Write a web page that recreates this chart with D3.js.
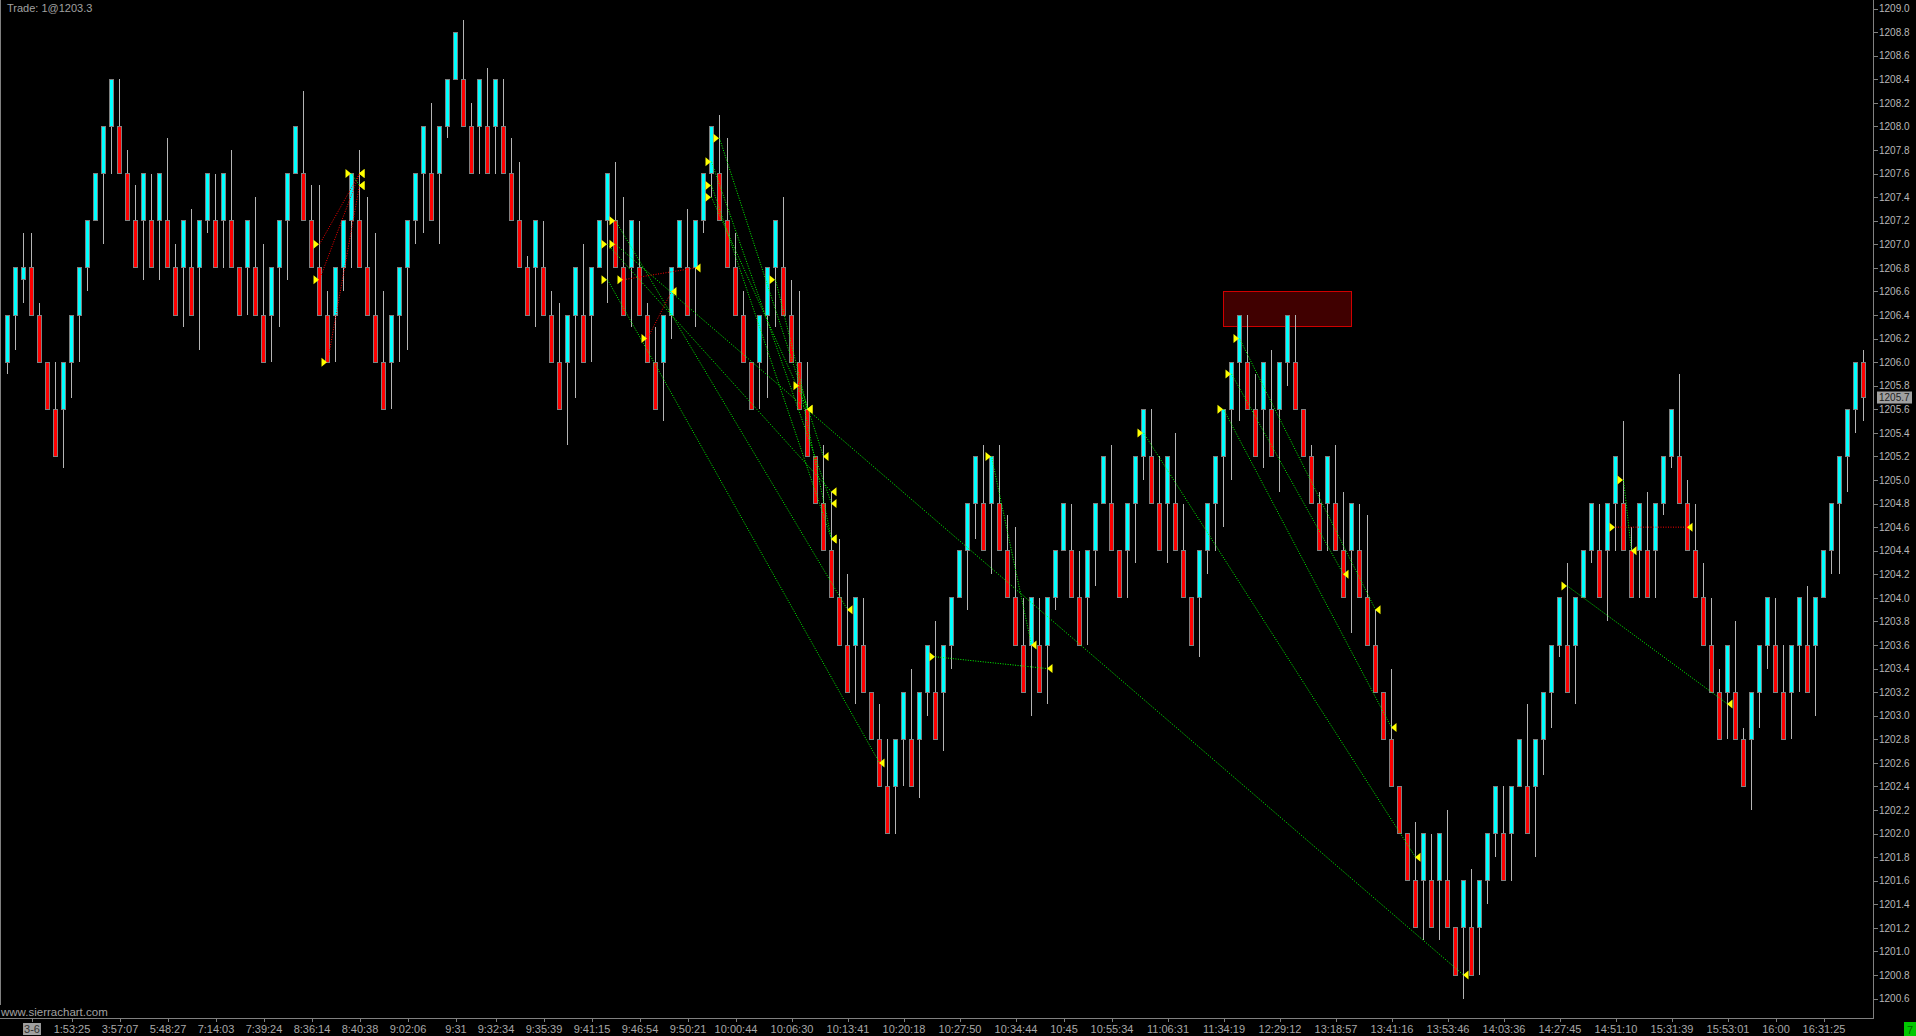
<!DOCTYPE html>
<html><head><meta charset="utf-8">
<script src="https://cdn.jsdelivr.net/npm/d3@7"></script>
<style>
html,body{margin:0;padding:0;background:#000;overflow:hidden;}
svg{display:block;font-family:"Liberation Sans",Arial,sans-serif;}
</style></head><body>
<svg id="chart" width="1916" height="1036"></svg>
<script>
// ---------- DATA ----------
const opens = [
1206.0,1206.4,1206.7,1206.8,1206.4,1206.0,1205.6,1205.6,1206.0,1206.4,
1206.8,1207.2,1207.6,1208.0,1208.0,1207.6,1207.2,1207.2,1207.2,1207.2,
1207.2,1206.8,1206.8,1206.8,1206.8,1207.2,1207.2,1207.2,1207.2,1206.8,
1206.8,1206.8,1206.4,1206.4,1206.8,1207.2,1207.6,1207.6,1207.2,1206.8,
1206.4,1206.4,1206.8,1207.2,1207.2,1206.8,1206.4,1206.0,1206.0,1206.4,
1206.8,1207.2,1207.6,1207.6,1207.6,1208.0,1208.4,1208.4,1208.0,1208.0,
1208.0,1208.0,1208.0,1207.6,1207.2,1206.8,1206.8,1206.8,1206.4,1206.0,
1206.0,1206.4,1206.4,1206.4,1206.8,1207.2,1207.2,1206.8,1206.8,1206.8,
1206.4,1206.0,1206.0,1206.4,1206.8,1206.8,1206.8,1207.2,1207.6,1207.6,
1207.2,1206.8,1206.4,1206.0,1206.0,1206.4,1206.8,1206.8,1206.4,1206.0,
1205.6,1205.2,1204.8,1204.4,1204.0,1203.6,1203.6,1203.6,1203.2,1202.8,
1202.4,1202.4,1202.8,1202.8,1202.8,1203.2,1203.2,1203.2,1203.6,1204.0,
1204.4,1204.8,1204.8,1204.8,1204.8,1204.4,1204.0,1203.6,1203.6,1203.6,
1203.6,1204.0,1204.4,1204.4,1204.0,1204.0,1204.4,1204.8,1204.8,1204.4,
1204.4,1204.8,1205.2,1205.2,1204.8,1204.8,1204.8,1204.4,1204.0,1204.0,
1204.4,1204.8,1205.2,1205.6,1206.0,1206.0,1205.6,1205.6,1205.6,1205.6,
1206.0,1206.0,1205.6,1205.2,1204.8,1204.8,1204.8,1204.4,1204.4,1204.4,
1204.0,1203.6,1203.2,1202.8,1202.4,1202.0,1201.6,1201.6,1201.6,1201.6,
1201.6,1201.2,1201.2,1201.2,1201.2,1201.6,1202.0,1202.0,1202.0,1202.4,
1202.4,1202.4,1202.8,1203.2,1203.6,1203.6,1203.6,1204.0,1204.4,1204.4,
1204.4,1204.8,1204.8,1204.4,1204.4,1204.4,1204.4,1204.8,1205.2,1205.2,
1204.8,1204.4,1204.0,1203.6,1203.2,1203.2,1203.2,1202.8,1202.8,1203.2,
1203.6,1203.6,1203.2,1203.2,1203.6,1203.6,1203.6,1204.0,1204.4,1204.8,
1205.2,1205.6,1206.0];
const closes = [
1206.4,1206.8,1206.8,1206.4,1206.0,1205.6,1205.2,1206.0,1206.4,1206.8,
1207.2,1207.6,1208.0,1208.4,1207.6,1207.2,1206.8,1207.6,1206.8,1207.6,
1206.8,1206.4,1207.2,1206.4,1207.2,1207.6,1206.8,1207.6,1206.8,1206.4,
1207.2,1206.4,1206.0,1206.8,1207.2,1207.6,1208.0,1207.2,1206.8,1206.4,
1206.0,1206.8,1207.2,1207.6,1206.8,1206.4,1206.0,1205.6,1206.4,1206.8,
1207.2,1207.6,1208.0,1207.2,1208.0,1208.4,1208.8,1208.0,1207.6,1208.4,
1207.6,1208.4,1207.6,1207.2,1206.8,1206.4,1207.2,1206.4,1206.0,1205.6,
1206.4,1206.8,1206.0,1206.8,1207.2,1207.6,1206.8,1206.4,1207.2,1206.4,
1206.0,1205.6,1206.4,1206.8,1207.2,1206.4,1207.2,1207.6,1208.0,1207.2,
1206.8,1206.4,1206.0,1205.6,1206.4,1206.8,1207.2,1206.4,1206.0,1205.6,
1205.2,1204.8,1204.4,1204.0,1203.6,1203.2,1204.0,1203.2,1202.8,1202.4,
1202.0,1202.8,1203.2,1202.4,1203.2,1203.6,1202.8,1203.6,1204.0,1204.4,
1204.8,1205.2,1204.4,1205.2,1204.4,1204.0,1203.6,1203.2,1204.0,1203.2,
1204.0,1204.4,1204.8,1204.0,1203.6,1204.4,1204.8,1205.2,1204.4,1204.0,
1204.8,1205.2,1205.6,1204.8,1204.4,1205.2,1204.4,1204.0,1203.6,1204.4,
1204.8,1205.2,1205.6,1206.0,1206.4,1205.6,1205.2,1206.0,1205.2,1206.0,
1206.4,1205.6,1205.2,1204.8,1204.4,1205.2,1204.4,1204.0,1204.8,1204.0,
1203.6,1203.2,1202.8,1202.4,1202.0,1201.6,1201.2,1202.0,1201.2,1202.0,
1201.2,1200.8,1201.6,1200.8,1201.6,1202.0,1202.4,1201.6,1202.4,1202.8,
1202.0,1202.8,1203.2,1203.6,1204.0,1203.2,1204.0,1204.4,1204.8,1204.0,
1204.8,1205.2,1204.4,1204.0,1204.8,1204.0,1204.8,1205.2,1205.6,1204.8,
1204.4,1204.0,1203.6,1203.2,1202.8,1203.6,1202.8,1202.4,1203.2,1203.6,
1204.0,1203.2,1202.8,1203.6,1204.0,1203.2,1204.0,1204.4,1204.8,1205.2,
1205.6,1206.0,1205.7];
const highs = [
1206.4,1206.8,1207.1,1207.1,1206.5,1206.0,1206.0,1206.0,1206.4,1206.8,
1207.2,1207.6,1208.0,1208.4,1208.4,1207.8,1207.5,1207.6,1207.6,1207.6,
1207.9,1207.0,1207.2,1207.3,1207.2,1207.6,1207.6,1207.6,1207.8,1206.8,
1207.2,1207.4,1207.0,1206.8,1207.2,1207.6,1208.0,1208.3,1207.5,1207.5,
1206.6,1206.8,1207.2,1207.6,1207.8,1207.4,1207.1,1206.6,1206.4,1206.8,
1207.2,1207.6,1208.0,1208.2,1208.0,1208.4,1208.8,1208.9,1208.2,1208.4,
1208.5,1208.4,1208.4,1207.9,1207.7,1206.9,1207.2,1207.2,1206.6,1206.5,
1206.4,1206.8,1207.0,1206.8,1207.2,1207.6,1207.7,1207.4,1207.2,1207.2,
1206.5,1206.3,1206.4,1206.8,1207.2,1207.3,1207.2,1207.6,1208.0,1208.1,
1207.9,1207.1,1206.6,1206.0,1206.4,1206.8,1207.2,1207.4,1206.7,1206.6,
1206.0,1205.2,1205.3,1204.9,1204.5,1204.2,1204.0,1204.0,1203.2,1203.1,
1202.8,1202.8,1203.2,1203.4,1203.2,1203.6,1203.8,1203.6,1204.0,1204.4,
1204.8,1205.2,1205.3,1205.2,1205.3,1204.7,1204.6,1204.0,1204.0,1204.0,
1204.0,1204.4,1204.8,1204.8,1204.4,1204.4,1204.8,1205.2,1205.3,1204.4,
1204.8,1205.2,1205.6,1205.6,1205.2,1205.2,1205.4,1204.8,1204.0,1204.4,
1204.8,1205.2,1205.6,1206.0,1206.4,1206.4,1205.9,1206.0,1206.1,1206.0,
1206.4,1206.4,1205.6,1205.3,1204.9,1205.2,1205.3,1204.9,1204.8,1204.8,
1204.7,1203.9,1203.2,1203.4,1202.4,1202.0,1202.1,1202.0,1202.0,1202.0,
1202.2,1201.2,1201.6,1201.7,1201.6,1202.0,1202.4,1202.4,1202.4,1202.8,
1203.1,1202.8,1203.2,1203.6,1204.0,1204.3,1204.0,1204.4,1204.8,1204.8,
1204.8,1205.2,1205.5,1204.6,1204.8,1204.9,1204.8,1205.2,1205.6,1205.9,
1205.0,1204.8,1204.3,1204.0,1203.4,1203.6,1203.8,1202.9,1203.2,1203.6,
1204.0,1204.0,1203.6,1203.6,1204.0,1204.1,1204.0,1204.4,1204.8,1205.2,
1205.6,1206.0,1206.1];
const lows = [
1205.9,1206.1,1206.5,1206.4,1206.0,1205.6,1205.2,1205.1,1205.7,1206.0,
1206.6,1207.2,1207.0,1207.6,1207.6,1207.2,1206.8,1206.7,1206.8,1206.7,
1206.8,1206.4,1206.3,1206.4,1206.1,1207.1,1206.8,1206.8,1206.8,1206.4,
1206.4,1206.4,1206.0,1206.0,1206.3,1206.7,1207.6,1207.2,1206.8,1206.4,
1206.0,1206.0,1206.6,1206.8,1206.8,1206.4,1206.0,1205.6,1205.6,1206.0,
1206.1,1207.0,1207.1,1207.2,1207.0,1207.9,1208.4,1208.0,1207.6,1207.6,
1207.6,1207.6,1207.6,1207.2,1206.8,1206.4,1206.3,1206.4,1206.0,1205.6,
1205.3,1205.7,1206.0,1206.0,1206.8,1206.5,1206.8,1206.4,1206.3,1206.4,
1206.0,1205.6,1205.5,1206.2,1206.8,1206.4,1206.3,1207.1,1207.4,1207.2,
1206.8,1206.4,1206.0,1205.6,1205.6,1205.7,1206.3,1206.4,1206.0,1205.6,
1205.2,1204.8,1204.4,1204.0,1203.6,1203.2,1203.1,1203.2,1202.8,1202.4,
1202.0,1202.0,1202.4,1202.4,1202.3,1203.0,1202.8,1202.7,1203.4,1204.0,
1203.9,1204.5,1204.4,1204.2,1204.4,1204.0,1203.6,1203.2,1203.0,1203.2,
1203.1,1203.9,1204.4,1204.0,1203.6,1203.6,1204.1,1204.8,1204.4,1204.0,
1204.0,1204.3,1205.0,1204.8,1204.4,1204.3,1204.4,1204.0,1203.6,1203.5,
1204.2,1204.4,1204.6,1205.0,1205.5,1205.6,1205.2,1205.1,1205.2,1204.9,
1205.8,1205.6,1205.2,1204.8,1204.4,1204.4,1204.4,1204.0,1203.7,1204.0,
1203.6,1203.2,1202.8,1202.4,1202.0,1201.6,1201.2,1201.1,1201.2,1201.1,
1201.2,1200.8,1200.6,1200.8,1200.8,1201.4,1201.8,1201.6,1201.6,1202.4,
1202.0,1201.8,1202.5,1202.9,1203.5,1203.2,1203.1,1204.0,1204.3,1204.0,
1203.8,1204.4,1204.4,1204.0,1204.0,1204.0,1204.0,1204.7,1205.1,1204.8,
1204.4,1204.0,1203.6,1203.2,1202.8,1202.8,1202.8,1202.4,1202.2,1202.9,
1203.4,1203.2,1202.8,1202.8,1203.2,1203.2,1203.0,1204.0,1204.2,1204.2,
1204.9,1205.4,1205.5];

const timeLabels = ["3-6","1:53:25","3:57:07","5:48:27","7:14:03","7:39:24","8:36:14","8:40:38","9:02:06","9:31","9:32:34","9:35:39","9:41:15","9:46:54","9:50:21","10:00:44","10:06:30","10:13:41","10:20:18","10:27:50","10:34:44","10:45","10:55:34","11:06:31","11:34:19","12:29:12","13:18:57","13:41:16","13:53:46","14:03:36","14:27:45","14:51:10","15:31:39","15:53:01","16:00","16:31:25"];
const timeLabelBars = [3,8,14,20,26,32,38,44,50,56,61,67,73,79,85,91,98,105,112,119,126,132,138,145,152,159,166,173,180,187,194,201,208,215,221,227];

const priceTicks = [1200.6,1200.8,1201.0,1201.2,1201.4,1201.6,1201.8,1202.0,1202.2,1202.4,1202.6,1202.8,1203.0,1203.2,1203.4,1203.6,1203.8,1204.0,1204.2,1204.4,1204.6,1204.8,1205.0,1205.2,1205.4,1205.6,1205.8,1206.0,1206.2,1206.4,1206.6,1206.8,1207.0,1207.2,1207.4,1207.6,1207.8,1208.0,1208.2,1208.4,1208.6,1208.8,1209.0];

const tradeEntryBars   = [39,39,40,43,75,75,76,76,77,80,88,88,88,89,96,99,116,123,142,152,153,154,195,201,202];
const tradeEntryPrices = [1207.0,1206.7,1206.0,1207.6,1207.0,1206.7,1207.2,1207.0,1206.7,1206.2,1207.7,1207.5,1207.4,1207.9,1206.7,1205.8,1203.5,1205.2,1205.4,1205.6,1205.9,1206.2,1204.1,1204.6,1205.0];
const tradeExitBars    = [44,44,44,44,103,109,105,182,86,83,103,103,100,102,100,103,130,128,176,173,167,171,215,210,203];
const tradeExitPrices  = [1207.6,1207.6,1207.5,1207.5,1204.9,1202.6,1203.9,1200.8,1206.8,1206.6,1204.8,1204.5,1205.6,1205.2,1205.6,1204.5,1203.4,1203.6,1201.8,1202.9,1204.2,1203.9,1203.1,1204.6,1204.4];
const tradeWins        = [0,0,0,1,1,1,1,1,0,0,1,1,1,1,1,1,1,1,1,1,1,1,1,0,1];

const zoneBars = [152,168];
const zonePrices = [1206.3,1206.6];
const lastPrice = 1205.7;
const titleText = "Trade: 1@1203.3";
const footerText = "www.sierrachart.com";

// ---------- CHART ----------
const W = 1916, H = 1036;
const axisX = 1873.5, axisY = 1018.5;
const svg = d3.select("#chart");
svg.append("rect").attr("width",W).attr("height",H).attr("fill","#000");

const x = d3.scaleLinear().domain([0, opens.length-1]).range([7.5, 7.5 + 8*(opens.length-1)]);
const y = d3.scaleLinear().domain([1200.6, 1209.0]).range([998.6, 8.6]);

const bars = opens.map((o,i)=>({i, o, c:closes[i], h:highs[i], l:lows[i]}));

// frame lines
svg.append("line").attr("x1",0.5).attr("x2",0.5).attr("y1",0).attr("y2",1005)
  .attr("stroke","#808080").attr("shape-rendering","crispEdges");
svg.append("line").attr("x1",axisX).attr("x2",axisX).attr("y1",0).attr("y2",axisY)
  .attr("stroke","#808080").attr("shape-rendering","crispEdges");

// highlight zone
svg.append("rect")
  .attr("x", x(zoneBars[0])).attr("width", x(zoneBars[1]) - x(zoneBars[0]))
  .attr("y", y(zonePrices[1])).attr("height", y(zonePrices[0]) - y(zonePrices[1]))
  .attr("fill","#400000").attr("stroke","#d00000").attr("stroke-width",1)
  .attr("shape-rendering","crispEdges");

// wicks
svg.append("g").selectAll("line").data(bars).join("line")
  .attr("x1", d=>x(d.i)).attr("x2", d=>x(d.i))
  .attr("y1", d=>y(d.h)).attr("y2", d=>y(d.l))
  .attr("stroke","#b4b4b4").attr("stroke-width",1)
  .attr("shape-rendering","crispEdges");

// bodies
svg.append("g").selectAll("rect").data(bars).join("rect")
  .attr("x", d=>x(d.i)-2).attr("width",4)
  .attr("y", d=>y(Math.max(d.o,d.c)))
  .attr("height", d=>Math.max(1, y(Math.min(d.o,d.c)) - y(Math.max(d.o,d.c))))
  .attr("fill", d=> d.c >= d.o ? "#00ffff" : "#ff0000")
  .attr("stroke","#808080").attr("stroke-width",1)
  .attr("shape-rendering","crispEdges");

// trade lines
const trades = tradeEntryBars.map((b,k)=>({eb:b, ep:tradeEntryPrices[k], xb:tradeExitBars[k], xp:tradeExitPrices[k], win:tradeWins[k]}));
svg.append("g").selectAll("line").data(trades).join("line")
  .attr("x1", d=>x(d.eb)).attr("y1", d=>y(d.ep))
  .attr("x2", d=>x(d.xb)).attr("y2", d=>y(d.xp))
  .attr("stroke", d=> d.win ? "#00ff00" : "#ff0000")
  .attr("stroke-width",1).attr("stroke-dasharray","1,1.5");

// markers
const mk = svg.append("g");
mk.selectAll("path.entry").data(trades).join("path").attr("class","entry")
  .attr("d", d=>{const cx=x(d.eb)-0.5, cy=y(d.ep); return `M${cx},${cy}L${cx-5.5},${cy-4.5}L${cx-5.5},${cy+4.5}Z`;})
  .attr("fill","#ffff00");
mk.selectAll("path.exit").data(trades).join("path").attr("class","exit")
  .attr("d", d=>{const cx=x(d.xb)-0.5, cy=y(d.xp); return `M${cx},${cy}L${cx+5.5},${cy-4.5}L${cx+5.5},${cy+4.5}Z`;})
  .attr("fill","#ffff00");

// price axis
const yAxis = d3.axisRight(y).tickValues(priceTicks).tickFormat(d3.format(".1f")).tickSize(4).tickPadding(1.5);
const gy = svg.append("g").attr("transform",`translate(${axisX},0)`).call(yAxis);
gy.select(".domain").remove();
gy.selectAll(".tick line").attr("stroke","#808080").attr("shape-rendering","crispEdges");
gy.selectAll(".tick text").attr("fill","#b8b8b8").attr("font-size","10px")
  .attr("font-family","'Liberation Sans', Arial, sans-serif");

// last price box
const lp = svg.append("g");
lp.append("rect").attr("x",1877).attr("y",y(lastPrice)-6).attr("width",35).attr("height",12).attr("fill","#a0a0a0");
lp.append("text").attr("x",1879).attr("y",y(lastPrice)).attr("dy","0.35em")
  .attr("font-size","10px").attr("fill","#202020").text(d3.format(".1f")(lastPrice));

// time axis
svg.append("line").attr("x1",0).attr("x2",axisX).attr("y1",axisY).attr("y2",axisY)
  .attr("stroke","#808080").attr("shape-rendering","crispEdges");
const xAxis = d3.axisBottom(x).tickValues(timeLabelBars).tickFormat((d,k)=>timeLabels[k]).tickSize(3).tickPadding(3.7);
const gx = svg.append("g").attr("transform",`translate(0,${axisY})`).call(xAxis);
gx.select(".domain").remove();
gx.selectAll(".tick line").attr("stroke","#808080").attr("shape-rendering","crispEdges");
gx.selectAll(".tick text").attr("fill","#a8a8a8").attr("font-size","11px")
  .attr("font-family","'Liberation Sans', Arial, sans-serif");
// date label highlight
gx.selectAll(".tick").filter((d,k)=>k===0).each(function(){
  const t = d3.select(this);
  const txt = t.select("text");
  const bb = txt.node().getBBox();
  t.insert("rect","text").attr("x",bb.x-1).attr("y",bb.y).attr("width",bb.width+2).attr("height",bb.height)
    .attr("fill","#a0a0a0");
  txt.attr("fill","#303030");
});

// texts
svg.append("text").attr("x",7).attr("y",11.5).attr("font-size","11px").attr("fill","#a0a0a0").text(titleText);
svg.append("text").attr("x",1).attr("y",1016).attr("font-size","11.5px").attr("fill","#a0a0a0").text(footerText);

// status box
svg.append("rect").attr("x",1904).attr("y",1022).attr("width",12).attr("height",14).attr("fill","#00c800");
svg.append("text").attr("x",1910).attr("y",1033.5).attr("text-anchor","middle").attr("font-size","11px").attr("fill","#006400").text("7");
</script>
</body></html>
